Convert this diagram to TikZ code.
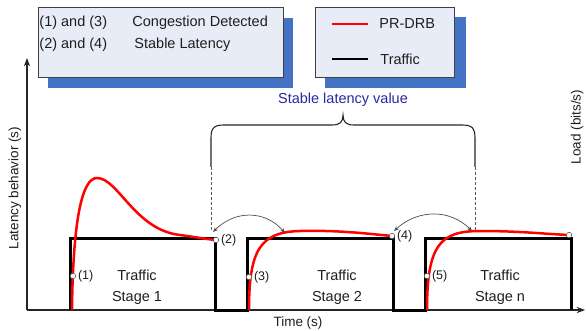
\documentclass[tikz,border=0pt]{standalone}
\usepackage{fontspec}
\setmainfont{Liberation Sans}
\usepackage{xcolor}
\usepackage{tikz}
\usetikzlibrary{arrows.meta}
\definecolor{sombraazul}{RGB}{68,114,196}
\definecolor{fondocaja}{RGB}{231,236,246}
\definecolor{textoazul}{RGB}{40,40,160}
\definecolor{curvarojo}{RGB}{255,0,0}
\definecolor{textogris}{RGB}{30,30,30}

\begin{document}
\begin{tikzpicture}[x=1pt, y=-1pt, >=Stealth, line width=0.9pt,
    txt/.style={font=\fontsize{14.5}{17}\selectfont, text=textogris, inner sep=0pt},
    eje/.style={font=\fontsize{13.5}{16}\selectfont, text=textogris, inner sep=0pt},
    etapa/.style={font=\fontsize{14.5}{21}\selectfont, text=textogris, align=center, inner sep=0pt},
    etiq/.style={font=\fontsize{12.5}{14}\selectfont, text=textogris, anchor=west, inner sep=1.5pt},
    punto/.style={circle, draw=gray!70!black, fill=white, line width=0.6pt, inner sep=0pt, minimum size=5.5pt},
    caja/.style={draw=black!75, fill=fondocaja, line width=0.8pt},
    sombra/.style={fill=sombraazul},
    trafico/.style={line width=3pt, black, line join=miter},
    latencia/.style={line width=2.5pt, curvarojo},
    guia/.style={gray!70!black, line width=0.7pt, dash pattern=on 3pt off 2pt},
    salto/.style={<->, black!70, line width=0.7pt, >={Stealth[length=5pt,width=4pt]}}]
    \useasboundingbox (0,0) rectangle (586,331);

    % leyenda izquierda (sombra azul desplazada)
    \fill[sombra] (48,18) rectangle (293,88);
    \draw[caja] (38,7) rectangle (283,77);
    \node[txt, anchor=west] (l13) at (39,23) {(1) and (3)};
    \node[txt, anchor=west] (l24) at (39,45) {(2) and (4)};
    \node[txt, anchor=west] (lcong) at (132,23) {Congestion Detected};
    \node[txt, anchor=west] (lest) at (134,45) {Stable Latency};

    % leyenda derecha
    \fill[sombra] (325,17) rectangle (466,88);
    \draw[caja] (315,7) rectangle (454,77);
    \draw[curvarojo, line width=1.8pt] (332,24) -- (368,24);
    \node[txt, anchor=west] (lprdrb) at (379,24) {PR-DRB};
    \draw[black, line width=2pt] (332,59) -- (368,59);
    \node[txt, anchor=west] (ltraf) at (380,59) {Traffic};

    % ejes
    \coordinate (O) at (27,310);
    \draw[->, black!85, line width=1.2pt] (O) -- (27,58);
    \draw[->, black!85, line width=1.2pt] (O) -- (585,310);
    \node[eje, rotate=90] (ylab) at (15,188) {Latency behavior (s)};
    \node[eje] (xlab) at (298,323) {Time (s)};
    \node[eje, rotate=90] (zlab) at (577,127) {Load (bits/s)};

    % trafico (escalones)
    \draw[trafico] (70,310) -- (70,238) -- (215,238) -- (215,310) -- (247,310) -- (247,238)
        -- (393,238) -- (393,310) -- (425,310) -- (425,238) -- (571,238) -- (571,310);
    \node[etapa] (et1) at (137,287) {Traffic\\Stage 1};
    \node[etapa] (et2) at (337,287) {Traffic\\Stage 2};
    \node[etapa] (etn) at (500,287) {Traffic\\Stage n};

    % PR-DRB, etapa 1 (pico y caida)
    \draw[latencia] (72,310) .. controls (73,220) and (82,178) .. (97,178)
        .. controls (118,178) and (135,230) .. (180,235) .. controls (195,237) and (205,239) .. (216,240);
    % PR-DRB, etapa 2
    \draw[latencia] (249,310) .. controls (249,250) and (260,232) .. (300,231)
        .. controls (340,230) and (370,234) .. (392,236);
    % PR-DRB, etapa n
    \draw[latencia] (427,310) .. controls (427,245) and (440,231) .. (480,231)
        .. controls (520,231) and (545,234) .. (569,235);

    % puntos marcados
    \node[punto] (p1) at (73,276) {};  \node[etiq] (e1) at (p1.east) {(1)};
    \node[punto] (p2) at (216,240) {}; \node[etiq] (e2) at (p2.east) {(2)};
    \node[punto] (p3) at (249,277) {}; \node[etiq] (e3) at (p3.east) {(3)};
    \node[punto] (p4) at (392,236) {}; \node[etiq] (e4) at (p4.east) {(4)};
    \node[punto] (p5) at (427,276) {}; \node[etiq] (e5) at (p5.east) {(5)};
    \node[punto] (p6) at (569,235) {};

    % llave del valor estable
    \coordinate (bi) at (211,167); \coordinate (bd) at (475,167);
    \draw[black!85, line width=1.1pt] (bi) -- (211,138) .. controls (211,128) and (214,125) .. (224,125)
        -- (332,125) .. controls (340,125) and (343,122) .. (343,115)
        .. controls (343,122) and (346,125) .. (354,125)
        -- (462,125) .. controls (472,125) and (475,128) .. (475,138) -- (bd);
    \node[txt, text=textoazul] (valor) at (343,100) {Stable latency value};
    \coordinate (gi) at (211,230); \coordinate (gd) at (475,230);
    \draw[guia] (bi) -- (gi);
    \draw[guia] (bd) -- (gd);

    % arcos entre etapas
    \coordinate (a1) at (213,232); \coordinate (a2) at (285,233);
    \draw[salto] (a1) .. controls (235,210) and (265,210) .. (a2);
    \coordinate (a3) at (394,231); \coordinate (a4) at (472,231);
    \draw[salto] (a3) .. controls (418,209) and (450,209) .. (a4);
\end{tikzpicture}
\end{document}
